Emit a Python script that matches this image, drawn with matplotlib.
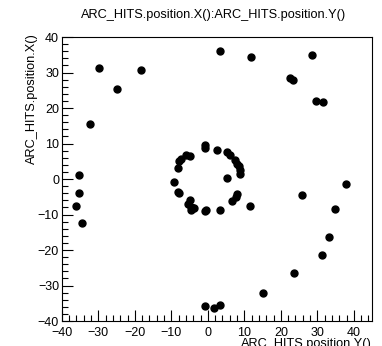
import matplotlib
matplotlib.use("Agg")
import matplotlib.pyplot as plt
from matplotlib.ticker import MultipleLocator

plt.rcParams['font.family'] = ['Liberation Sans', 'DejaVu Sans']

# hit positions: Y (horizontal) and X (vertical)
pos_y = [-29.8, -24.8, -18.2, -32.2, -35.4, -35.4, -36.2, -34.6,
         -9.2, -8.2, -7.8, -7.3, -5.9, -5.0, -8.2, -7.8, -5.5, -4.6, -3.7, -4.6, -5.0, -4.1,
         -0.9, -0.9, 2.5, 5.2, 6.0, 7.5, 8.0, 8.5, 8.9, 8.7, 5.3, 8.0, 7.8, 6.7, 3.2, -0.9, -0.4,
         11.5, 3.4, 11.9, 28.5, 22.4, 23.2, 29.6, 31.6, 37.8, 25.7, 34.8,
         33.1, 31.2, 23.6, 15.2, -0.8, 1.6, 3.2]
pos_x = [31.2, 25.5, 30.8, 15.6, 1.2, -3.8, -7.6, -12.3,
         -0.9, 3.1, 5.2, 5.7, 6.9, 6.5, -3.6, -3.8, -6.9, -7.8, -8.1, -8.7, -5.9, -8.1,
         9.5, 8.7, 8.3, 7.6, 6.7, 5.3, 4.3, 3.6, 2.5, 1.5, 0.3, -4.1, -5.0, -6.2, -8.7, -9.0, -8.7,
         -7.5, 36.0, 34.5, 34.8, 28.4, 27.8, 22.0, 21.6, -1.5, -4.4, -8.3,
         -16.4, -21.5, -26.4, -32.0, -35.8, -36.4, -35.5]

fig = plt.figure(figsize=(3.82, 3.46), dpi=100)
ax = fig.add_axes([0.162, 0.072, 0.812, 0.821])
ax.plot(pos_y, pos_x, 'o', color='black', markersize=5, linestyle='none')

ax.set_xlim(-40, 45)
ax.set_ylim(-40, 40)
ax.xaxis.set_major_locator(MultipleLocator(10))
ax.xaxis.set_minor_locator(MultipleLocator(2))
ax.yaxis.set_major_locator(MultipleLocator(10))
ax.yaxis.set_minor_locator(MultipleLocator(2))
ax.tick_params(which='both', direction='in', top=False, right=False,
               labelsize=9, colors='black', width=0.8)
ax.tick_params(axis='x', which='major', length=8, pad=4)
ax.tick_params(axis='y', which='major', length=8, pad=2)
ax.tick_params(which='minor', length=4)
for s in ax.spines.values():
    s.set_linewidth(0.8)

ax.set_xlabel('ARC_HITS.position.Y()', fontsize=9.2, ha='right', va='top')
ax.xaxis.set_label_coords(1.0, -0.058)
ax.set_ylabel('ARC_HITS.position.X()', fontsize=9.2, ha='right', va='center')
ax.yaxis.set_label_coords(-0.097, 1.015)
fig.text(0.558, 0.957, 'ARC_HITS.position.X():ARC_HITS.position.Y()',
         ha='center', va='center', fontsize=9.2)

fig.savefig('out.png', dpi=100)
